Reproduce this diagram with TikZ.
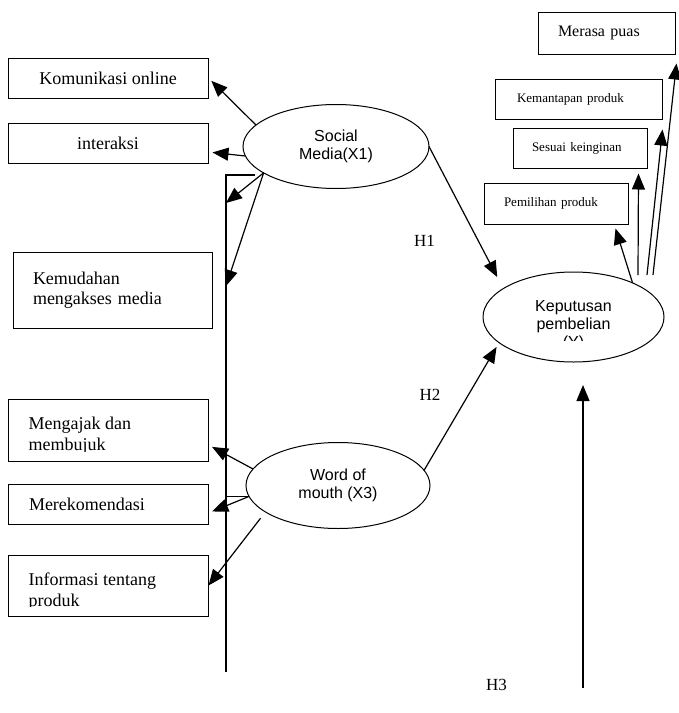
\documentclass[tikz,border=0pt]{standalone}
\usepackage{fontspec}
\setmainfont{Liberation Serif}
\newfontfamily\arialfont{Liberation Sans}
\usetikzlibrary{positioning,shapes.geometric,arrows.meta}

\begin{document}
\begin{tikzpicture}[x=1pt, y=-1pt, font=\fontsize{18}{20.5}\selectfont,
	block/.style = { rectangle, draw=black, line width=1pt, inner sep=0pt},
	small/.style = { font=\fontsize{13}{15}\selectfont},
	boxtext/.style = { inner sep=0pt, align=left},
	latenttext/.style = { font=\arialfont\fontsize{16}{18}\selectfont, align=center},
	latent/.style = { ellipse, draw=black, line width=1pt, inner sep=0pt,
	outer sep=0pt, latenttext},
	arr/.style = { line width=1.2pt, -{Triangle[length=16pt,width=13pt]} } ]

  \useasboundingbox (0,0) rectangle (679,713);

  % left column
  \node [name=komunikasi, block, minimum width=200pt, minimum height=40pt]
	at (108,78) { Komunikasi online };
  \node [name=interaksi, block, minimum width=200pt, minimum height=40pt]
	at (108,143) { interaksi };
  \node [name=kemudahan, block, minimum width=199pt, minimum height=76pt,
	text width=159pt, inner xsep=20pt, align=left]
	at (112.5,290) { Kemudahan\\mengakses media };
  \node [name=mengajak, block, minimum width=200pt, minimum height=62pt]
	at (108,430) {};
  \node [name=merekomendasi, block, minimum width=200pt, minimum height=40pt,
	text width=158pt, inner xsep=21pt, align=left]
	at (108,504) { Merekomendasi };
  \node [name=informasi, block, minimum width=200pt, minimum height=61pt]
	at (108,585.5) {};
  \begin{scope}
    \clip (mengajak.north west) rectangle ([yshift=10pt]mengajak.south east);
    \node [name=mengajaktext, boxtext,
	below right=18.5pt and 21pt of mengajak.north west] { Mengajak dan\\membujuk };
  \end{scope}
  \begin{scope}
    \clip (informasi.north west) rectangle ([yshift=10pt]informasi.south east);
    \node [name=informasitext, boxtext,
	below right=18.5pt and 21pt of informasi.north west] { Informasi tentang\\produk };
  \end{scope}

  % right column
  \node [name=merasa, block, minimum width=137pt, minimum height=42pt,
	text width=97pt, inner xsep=20pt, align=left, font=\fontsize{16}{18}\selectfont]
	at (606.5,33) { Merasa puas };
  \node [name=kemantapan, block, small, minimum width=167pt, minimum height=40pt,
	text width=123pt, inner xsep=22pt, align=left]
	at (578.5,99) { Kemantapan produk };
  \node [name=sesuai, block, small, minimum width=134pt, minimum height=40pt,
	text width=96pt, inner xsep=19pt, align=left]
	at (580,148) { Sesuai keinginan };
  \node [name=pemilihan, block, small, minimum width=144pt, minimum height=41pt,
	text width=104pt, inner xsep=20pt, align=left]
	at (556,203.5) { Pemilihan produk };

  % constructs
  \node [name=social, latent, minimum width=186pt, minimum height=84pt]
	at (336,146.5) { Social\\Media(X1) };
  \node [name=wom, latent, minimum width=184pt, minimum height=86pt]
	at (338,485.5) { Word of\\mouth (X3) };
  \node [name=keputusan, latent, minimum width=181pt, minimum height=90pt]
	at (573.5,317) {};
  \begin{scope}
    \clip ([yshift=30pt]keputusan.west) rectangle ([yshift=-23pt]keputusan.east);
    \node [name=keputusantext, latenttext, inner sep=0pt, anchor=north]
	at ([yshift=16.5pt]keputusan.center) { Keputusan\\pembelian\\(Y) };
  \end{scope}

  % hypothesis labels
  \node [name=hone, font=\fontsize{17}{19}\selectfont] at (424.5,241) { H1 };
  \node [name=htwo, font=\fontsize{17}{19}\selectfont] at (430,395) { H2 };
  \node [name=hthree, font=\fontsize{17}{19}\selectfont] at (496.5,685) { H3 };

  % long vertical line
  \coordinate (vtop) at (226,175);
  \coordinate (vbot) at (226,672);
  \coordinate (stub) at (255,175);
  \coordinate (kemA) at (226,203);
  \coordinate (kemB) at (226,286);
  \coordinate (hbase) at (583,688);
  \draw [line width=1.2pt] (vbot) -- (vtop) -- (stub);

  % indicators of social media
  \draw [arr, shorten >=4pt] (social.165) -- (komunikasi.east);
  \draw [arr, shorten >=4pt] (social.186) -- ([yshift=-9pt]interaksi.east);
  \draw [arr] (social.200) -- (kemA);
  \draw [arr] (social.200) -- (kemB);

  % indicators of word of mouth
  \draw [arr, shorten >=4pt] (wom.169) -- ([yshift=-15pt]mengajak.east);
  \draw [arr, shorten >=4pt] (wom.187) -- ([yshift=-9pt]merekomendasi.east);
  \draw [line width=1.2pt] (wom.187) -- (wom.187 -| vtop);
  \draw [arr, shorten <=8pt] (wom.200) -- (informasi.east);

  % hypotheses
  \draw [arr, shorten >=13pt] (social.east) -- (keputusan.158);
  \draw [arr, shorten >=5pt] (wom.10) -- (keputusan.199);
  \draw [arr] (hbase) -- ([yshift=-23pt]hbase |- keputusan.south);

  % indicators of keputusan pembelian
  \draw [arr] (keputusan.30) -- ([xshift=-13pt,yshift=-4pt]pemilihan.south east);
  \draw [arr] ([xshift=64.5pt,yshift=-3pt]keputusan.north)
	-- ([xshift=-9pt,yshift=-5pt]sesuai.south east);
  \draw [arr] ([xshift=73.5pt,yshift=-3pt]keputusan.north)
	-- ([yshift=-10pt]kemantapan.south east);
  \draw [arr] ([xshift=79.5pt,yshift=-3pt]keputusan.north)
	-- ([xshift=1pt,yshift=-9pt]merasa.south east);
\end{tikzpicture}
\end{document}
